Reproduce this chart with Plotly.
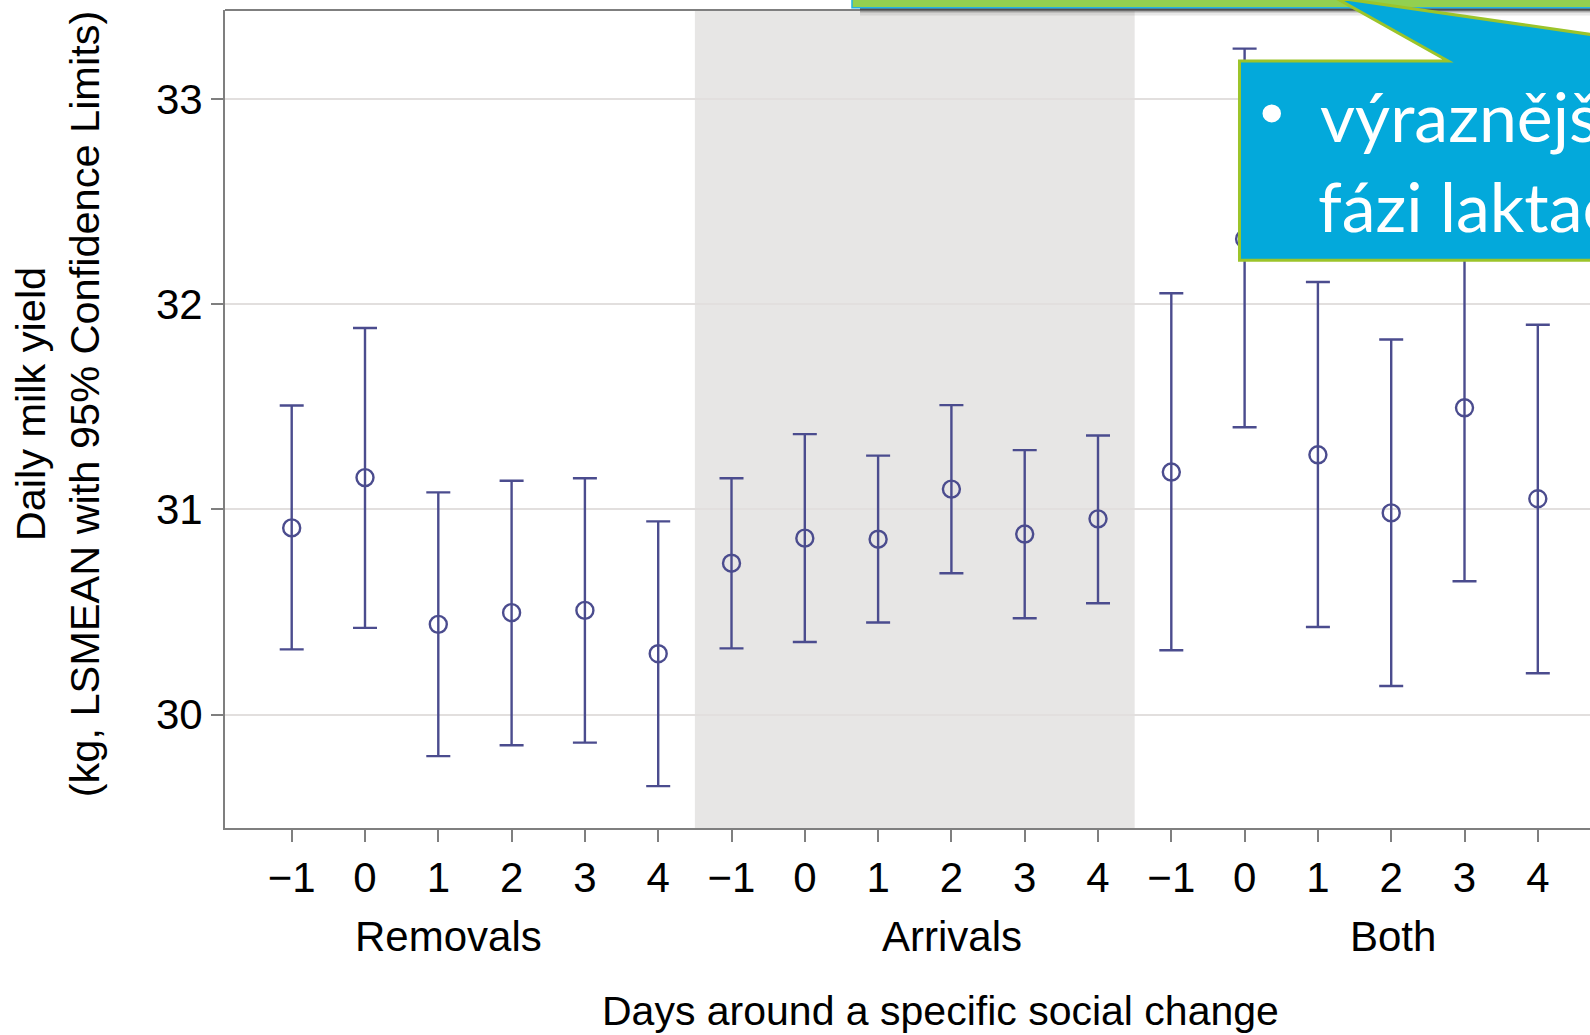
import plotly.graph_objects as go

# ---------------- data ----------------
groups = ["Removals", "Arrivals", "Both"]
days = ["\u22121", "0", "1", "2", "3", "4"]

lsmean_removals = [30.910, 31.155, 30.440, 30.497, 30.508, 30.297]
upper_removals = [31.506, 31.884, 31.083, 31.140, 31.152, 30.942]
lower_removals = [30.318, 30.423, 29.798, 29.851, 29.864, 29.652]

lsmean_arrivals = [30.738, 30.860, 30.855, 31.099, 30.880, 30.954]
upper_arrivals = [31.152, 31.367, 31.262, 31.508, 31.289, 31.360]
lower_arrivals = [30.323, 30.354, 30.449, 30.689, 30.470, 30.543]

lsmean_both = [31.182, 32.318, 31.266, 30.983, 31.495, 31.052]
upper_both = [32.053, 33.245, 32.108, 31.828, 32.340, 31.900]
lower_both = [30.314, 31.400, 30.427, 30.140, 30.650, 30.202]

y_ticks = [30, 31, 32, 33]
group_label_pos = [2.14, 9.01, 15.02]

x_title = "Days around a specific social change"
y_title = "Daily milk yield<br>(kg, LSMEAN with 95% Confidence Limits)"
callout_line1 = "výraznější"
callout_line2 = "fázi laktace"

# ---------------- build ----------------
means = lsmean_removals + lsmean_arrivals + lsmean_both
uppers = upper_removals + upper_arrivals + upper_both
lowers = lower_removals + lower_arrivals + lower_both
xpos = list(range(len(means)))
tick_text = days * len(groups)

C = "#4B4C8E"
GRAY = "#7F7F7F"
FONT = "Liberation Sans, Arial, sans-serif"

W, H = 1590, 1035
ML, MR, MT, MB = 225, 0, 9.5, 207
PW = W - ML - MR
PH = H - MT - MB


def px(x):
    return (x - ML) / PW


def py(y):
    return (H - MB - y) / PH


fig = go.Figure()
fig.add_trace(go.Scatter(
    x=xpos, y=means, mode="markers",
    marker=dict(symbol="circle-open", size=17, color=C, line=dict(width=2.4, color=C)),
    error_y=dict(type="data", symmetric=False,
                 array=[u - m for u, m in zip(uppers, means)],
                 arrayminus=[m - l for m, l in zip(means, lowers)],
                 color=C, thickness=2.4, width=12),
    showlegend=False, hoverinfo="skip",
))

shapes = []
# shaded middle group
shapes.append(dict(type="rect", xref="x", yref="paper", x0=5.5, x1=11.5, y0=0, y1=1,
                   fillcolor="#E7E6E5", line=dict(width=0), layer="below"))
# top border of plot
shapes.append(dict(type="line", xref="paper", yref="paper", x0=0, x1=1, y0=1, y1=1,
                   line=dict(color=GRAY, width=2), layer="above"))
# shadow under green box
for (ya, yb, col) in [(7, 9.5, "rgba(70,70,70,0.85)"), (9.5, 12, "rgba(90,90,90,0.5)"),
                      (12, 15, "rgba(130,130,130,0.18)")]:
    shapes.append(dict(type="rect", xref="paper", yref="paper", x0=px(860), x1=px(1700),
                       y0=py(yb), y1=py(ya), fillcolor=col, line=dict(width=0), layer="above"))
# green box
shapes.append(dict(type="rect", xref="paper", yref="paper", x0=px(852), x1=px(1700),
                   y0=py(7.3), y1=py(-60), fillcolor="#92D050",
                   line=dict(color="#22B2E6", width=1.5), layer="above"))
# blue callout with pointer
pts = [(1239.5, 60.5), (1448, 60.5), (1335, -3), (1774, 60.5), (1800, 60.5),
       (1800, 260), (1239.5, 260)]
path = "M " + " L ".join(f"{px(a):.5f},{py(b):.5f}" for a, b in pts) + " Z"
shapes.append(dict(type="path", xref="paper", yref="paper", path=path,
                   fillcolor="#03A9DB", line=dict(color="#9CC42A", width=3), layer="above"))
# bullet
shapes.append(dict(type="circle", xref="paper", yref="paper",
                   x0=px(1262.5), x1=px(1281), y0=py(122), y1=py(104),
                   fillcolor="white", line=dict(width=0), layer="above"))

annotations = []
for g, xg in zip(groups, group_label_pos):
    annotations.append(dict(text=g, x=xg, xref="x", y=py(937), yref="paper",
                            showarrow=False, xanchor="center", yanchor="middle",
                            font=dict(family=FONT, size=42, color="black")))
annotations.append(dict(text=x_title, x=px(940), xref="paper", y=py(1011), yref="paper",
                        showarrow=False, xanchor="center", yanchor="middle",
                        font=dict(family=FONT, size=41, color="black")))
annotations.append(dict(text=y_title, x=px(57), xref="paper", y=py(404), yref="paper",
                        showarrow=False, xanchor="center", yanchor="middle", textangle=-90,
                        font=dict(family=FONT, size=41.5, color="black")))
CFONT = "Lato, Open Sans, sans-serif"
annotations.append(dict(text=callout_line1, x=px(1318), xref="paper", y=py(115), yref="paper",
                        showarrow=False, xanchor="left", yanchor="middle",
                        font=dict(family=CFONT, size=68, color="white")))
annotations.append(dict(text=callout_line2, x=px(1316), xref="paper", y=py(205), yref="paper",
                        showarrow=False, xanchor="left", yanchor="middle",
                        font=dict(family=CFONT, size=68, color="white")))

fig.update_layout(
    width=W, height=H,
    margin=dict(l=ML, r=MR, t=MT, b=MB, pad=0),
    paper_bgcolor="white", plot_bgcolor="white",
    shapes=shapes, annotations=annotations,
    xaxis=dict(range=[-0.91, 17.712], tickmode="array", tickvals=xpos, ticktext=tick_text,
               showgrid=False, zeroline=False, showline=True, linecolor=GRAY, linewidth=2,
               ticks="outside", ticklen=12, tickwidth=2, tickcolor=GRAY,
               tickfont=dict(family=FONT, size=42, color="black")),
    yaxis=dict(range=[29.448, 33.433], tickmode="array", tickvals=y_ticks,
               showgrid=True, gridcolor="#E2DFDE", gridwidth=2, zeroline=False,
               showline=True, linecolor=GRAY, linewidth=2,
               ticks="outside", ticklen=12, tickwidth=2, tickcolor=GRAY,
               tickfont=dict(family=FONT, size=42, color="black")),
)

fig.write_html("out.html")
